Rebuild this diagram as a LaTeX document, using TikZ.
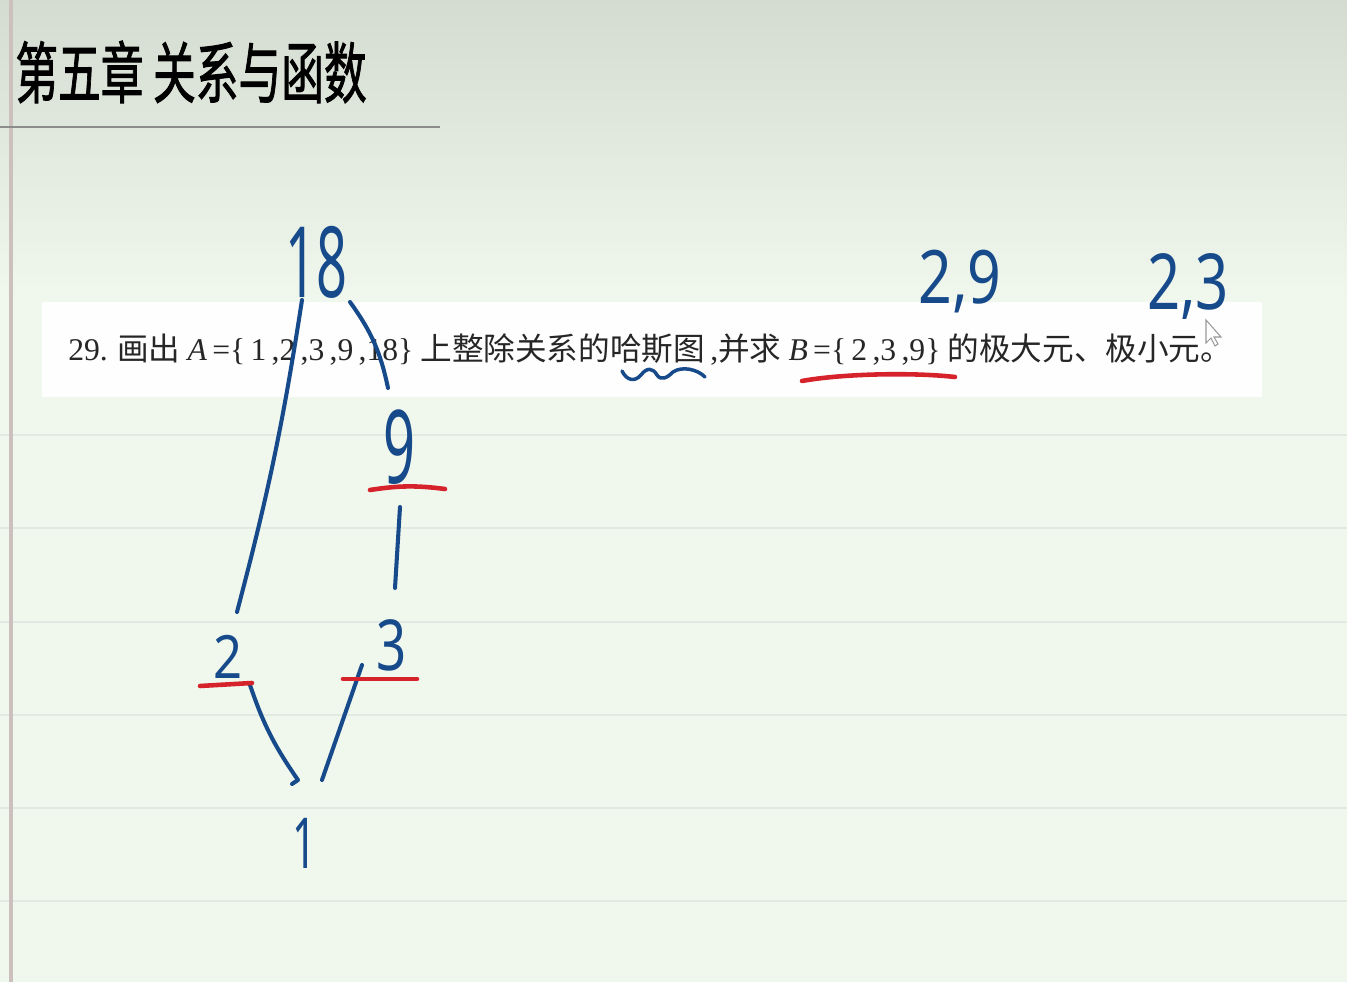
\documentclass[tikz,border=0pt]{standalone}
\usepackage{fontspec}
\setmainfont{Liberation Serif}
\newfontfamily\cjk{Noto Sans CJK SC}
\newfontfamily\cjktitle[FakeBold=1.6]{Noto Sans CJK SC}
\newfontfamily\handfont{Noto Sans}
\usetikzlibrary{calc}
\definecolor{ink}{RGB}{22,74,138}
\definecolor{redink}{RGB}{214,34,42}
\definecolor{paper}{RGB}{240,247,236}
\definecolor{papertop}{RGB}{212,219,209}
\definecolor{ruleline}{RGB}{225,234,226}
\definecolor{marginline}{RGB}{204,192,188}
\newcommand\handtxt[3]{\scalebox{#2}[1]{\fontsize{#1}{#1}\selectfont #3}}

\begin{document}
\begin{tikzpicture}[
    x=0.02cm, y=-0.02cm,
    hw/.style     ={text=ink, inner sep=0pt, font=\handfont},
    hand/.style   ={draw=ink, line width=2.3pt, line cap=round, line join=round},
    redmark/.style={draw=redink, line width=2.6pt, line cap=round},
    qtext/.style  ={inner sep=0pt, anchor=west, text=black!85,
                    font=\cjk\fontsize{18}{18}\selectfont}
]
\useasboundingbox (0,0) rectangle (1347,982);

%% ── Paper ────────────────────────────────────────────────────────
\fill[paper] (0,0) rectangle (1347,982);
\shade[top color=papertop, bottom color=paper] (0,0) rectangle (1347,300);
\foreach \y in {435,528,622,715,808,901}
    \draw[ruleline, line width=1.2pt] (0,\y) -- (1347,\y);
\draw[marginline, line width=2pt] (11,0) -- (11,982);

%% ── Title ────────────────────────────────────────────────────────
\node[anchor=west, inner sep=0pt] (title) at (15,72)
    {\scalebox{0.64}[1]{\cjktitle\fontsize{38}{38}\selectfont 第五章 关系与函数}};
\draw[black!45, line width=1pt] (0,127) -- (440,127);

%% ── Question ─────────────────────────────────────────────────────
\fill[white, opacity=0.92] (42,302) rectangle (1262,397);
\node[qtext] (question) at (68,350)
    {{\rmfamily 29.} 画出 {\rmfamily\textit{A}\,=\{\,1\,,2\,,3\,,9\,,18\}} 上整除关系的哈斯图{\rmfamily\,,}并求 {\rmfamily\textit{B}\,=\{\,2\,,3\,,9\}} 的极大元、极小元。};

%% ── Hasse diagram (handwritten) ──────────────────────────────────
\node[hw] (n18) at (316,262) {\handtxt{56}{0.55}{18}};
\node[hw] (n9)  at (400,447) {\handtxt{58}{0.55}{9}};
\node[hw] (n3)  at (392,645) {\handtxt{40}{0.75}{3}};
\node[hw] (n2)  at (228,657) {\handtxt{34}{0.85}{2}};
\node[hw] (n1)  at (305,843) {\handtxt{40}{0.6}{1}};

\draw[hand] ($(n18)+(-14,38)$) to[bend left=3] ($(n2)+(9,-45)$);
\draw[hand] ($(n18)+(34,40)$)  to[bend left=12] ($(n9)+(-12,-59)$);
\draw[hand] ($(n9)+(0,60)$)    -- ($(n3)+(3,-57)$);
\draw[hand] ($(n2)+(22,28)$)   to[bend right=8] ($(n1)+(-7,-63)$) -- ++(-6,4);
\draw[hand] ($(n3)+(-30,20)$)  -- ($(n1)+(17,-63)$);

%% ── Red marks under the elements of B ────────────────────────────
\draw[redmark] ($(n9)+(-30,43)$) to[bend left=8] ($(n9)+(45,42)$);
\draw[redmark] ($(n2)+(-28,29)$) -- ($(n2)+(24,26)$);
\draw[redmark] ($(n3)+(-49,34)$) -- ($(n3)+(25,34)$);

%% ── Marks on the question ────────────────────────────────────────
\draw[hand, line width=2pt]
    (622,371) .. controls (627,381) and (635,382) .. (641,375)
    .. controls (647,367) and (653,368) .. (657,375)
    .. controls (661,381) and (667,378) .. (673,372)
    .. controls (682,366) and (697,369) .. (705,377);
\draw[redmark] (802,381) .. controls (840,374) and (910,372) .. (955,377);

%% ── Answers: maximal / minimal elements ──────────────────────────
\node[hw] (maxel) at (960,282) {\handtxt{42}{0.8}{2,9}};
\node[hw] (minel) at (1188,287) {\handtxt{44}{0.75}{2,3}};

%% ── Cursor ───────────────────────────────────────────────────────
\filldraw[fill=white, draw=black!40, line width=0.6pt]
    (1206,320) -- (1206,343) -- (1211,338) -- (1215,346)
    -- (1218,344) -- (1214,337) -- (1221,337) -- cycle;

\end{tikzpicture}
\end{document}
